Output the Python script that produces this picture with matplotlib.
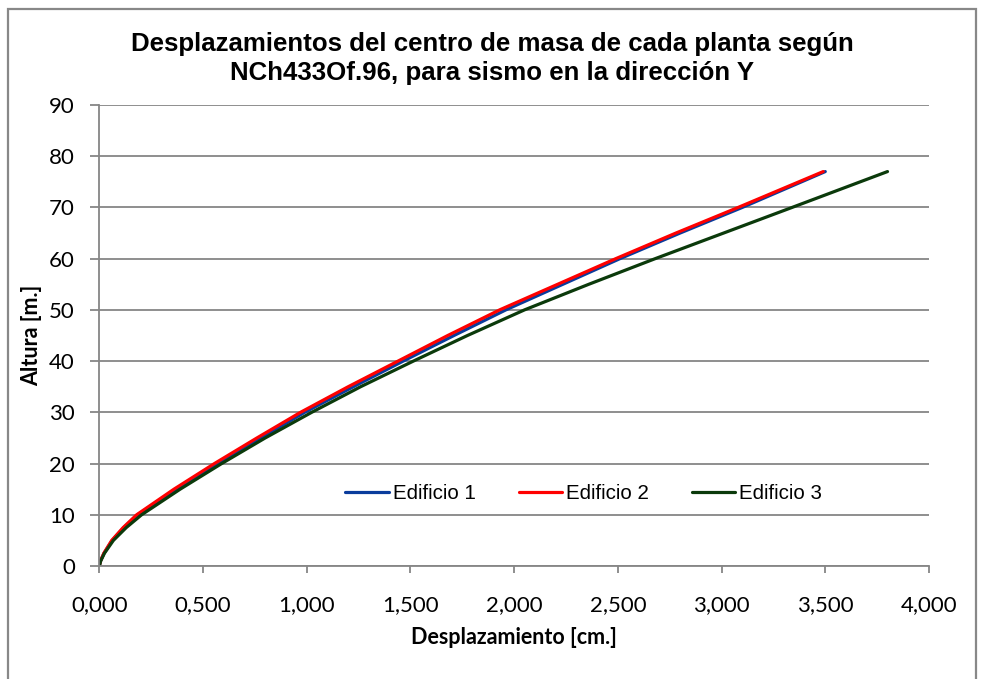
import matplotlib
matplotlib.use('Agg')
import matplotlib.pyplot as plt
from matplotlib.patches import Rectangle
from matplotlib.ticker import FuncFormatter

# alturas de planta [m] y desplazamientos [cm]
altura = [0, 1, 2.5, 5, 7.5, 10, 15, 20, 25, 30, 35, 40, 45, 50, 55, 60, 65, 70, 77]
edificio1 = [0, 0.006, 0.023, 0.062, 0.118, 0.185, 0.37, 0.57, 0.78, 0.99, 1.225,
             1.465, 1.71, 1.96, 2.235, 2.51, 2.80, 3.10, 3.50]
edificio2 = [0, 0.006, 0.022, 0.060, 0.115, 0.18, 0.36, 0.555, 0.76, 0.97, 1.20,
             1.44, 1.68, 1.93, 2.21, 2.49, 2.78, 3.08, 3.49]
edificio3 = [0, 0.007, 0.025, 0.068, 0.13, 0.204, 0.39, 0.59, 0.80, 1.024, 1.26,
             1.514, 1.775, 2.05, 2.36, 2.68, 3.01, 3.34, 3.80]

series = [('Edificio 1', edificio1, '#0a3c9c'),
          ('Edificio 2', edificio2, '#ff0000'),
          ('Edificio 3', edificio3, '#0b3a0b')]

fig = plt.figure(figsize=(9.84, 6.79), dpi=100)
ax = fig.add_axes([0.1009, 0.1664, 0.8432, 0.679])

for nombre, desp, color in series:
    ax.plot(desp, altura, color=color, lw=2.3, label=nombre,
            solid_capstyle='round', solid_joinstyle='round')

ax.set_xlim(0, 4)
ax.set_ylim(0, 90)
ax.set_xticks([0, 0.5, 1, 1.5, 2, 2.5, 3, 3.5, 4])
ax.set_yticks(range(0, 91, 10))
ax.xaxis.set_major_formatter(FuncFormatter(lambda v, p: f'{v:.3f}'.replace('.', ',')))

ax.grid(axis='y', color='#868686', lw=1.3)
ax.set_axisbelow(True)
for s in ['top', 'right']:
    ax.spines[s].set_visible(False)
for s in ['left', 'bottom']:
    ax.spines[s].set_color('#868686')
    ax.spines[s].set_linewidth(1.3)

ax.tick_params(axis='both', direction='out', color='#868686', width=1.3,
               labelsize=16, labelcolor='black')
ax.tick_params(axis='y', length=6.5, pad=11)
ax.tick_params(axis='x', length=5, pad=16)
for lab in ax.get_xticklabels() + ax.get_yticklabels():
    lab.set_fontfamily('Lato')

ax.set_xlabel('Desplazamiento [cm.]', fontsize=15.5, fontweight='bold', family='Lato')
ax.set_ylabel('Altura [m.]', fontsize=15.5, fontweight='bold', family='Lato')
ax.xaxis.set_label_coords(0.5, -0.133)
ax.yaxis.set_label_coords(-0.069, 0.5)

fig.text(0.5, 0.914, 'Desplazamientos del centro de masa de cada planta según\n'
         'NCh433Of.96, para sismo en la dirección Y',
         ha='center', va='center', fontsize=18.6, fontweight='bold',
         family='Liberation Sans', linespacing=1.28)

ax.legend(loc='center', bbox_to_anchor=(0.584, 0.157), ncol=3, frameon=False,
          prop={'family': 'Liberation Sans', 'size': 14.8},
          handlelength=2.1, handletextpad=0.2, columnspacing=2.1)

# marco exterior del gráfico
fig.patches.append(Rectangle((8 / 984, -0.05), 968 / 984, 1.05 - 9 / 679,
                             transform=fig.transFigure, fill=False,
                             edgecolor='#888888', lw=1.6))

fig.savefig('out.png', dpi=100)
